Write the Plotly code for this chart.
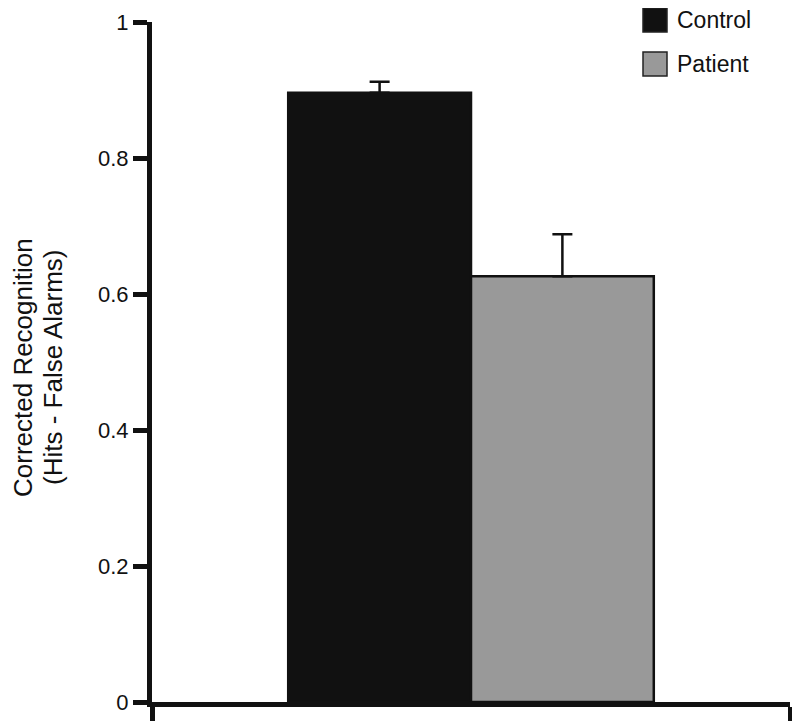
import plotly.graph_objects as go

groups = ["Control", "Patient"]
values = [0.896, 0.626]
errors = [0.016, 0.062]
fills = ["#111111", "#999999"]
category = [""]
ytick_vals = [0, 0.2, 0.4, 0.6, 0.8, 1]
ytick_text = ["0", "0.2", "0.4", "0.6", "0.8", "1"]
ytitle_lines = ["Corrected Recognition", "(Hits - False Alarms)"]

W, H = 800, 727
OFF = 8  # page body margin shifts the figure
L, R, T, B = 152 - OFF, 10 + OFF, 22 - OFF, 25 + OFF
pw, ph = W - L - R, H - T - B

def px_x(x):
    return (x - OFF - L) / pw

def px_y(y):
    return (H - B - (y - OFF)) / ph

fig = go.Figure()
for g, v, e, c in zip(groups, values, errors, fills):
    fig.add_trace(go.Bar(
        x=category, y=[v], name=g, showlegend=False,
        marker=dict(color=c, line=dict(color="#111111", width=2.5)),
        error_y=dict(type="data", symmetric=False, array=[e], arrayminus=[0],
                     color="#111111", thickness=2.5, width=10),
    ))

font = dict(family="Liberation Sans, Arial, sans-serif", size=22, color="#111111")

shapes = []
annotations = []
# legend drawn as squares + text labels
for i, (g, c) in enumerate(zip(groups, fills)):
    top = 8 + i * 44
    shapes.append(dict(type="rect", xref="paper", yref="paper",
                       x0=px_x(643), x1=px_x(667), y0=px_y(top + 24), y1=px_y(top),
                       fillcolor=c, line=dict(color="#222222", width=1.5)))
    annotations.append(dict(text=g, xref="paper", yref="paper",
                            x=px_x(675), y=px_y(top + 12), xanchor="left",
                            yanchor="middle", showarrow=False,
                            font=dict(size=23, color="#111111")))
# y-axis title, two lines
for j, line in enumerate(ytitle_lines):
    annotations.append(dict(text=line, xref="paper", yref="paper",
                            x=px_x(23 + j * 30), y=px_y(368), xanchor="center",
                            yanchor="middle", textangle=-90, showarrow=False,
                            borderpad=0,
                            font=dict(size=26, color="#111111")))

fig.update_layout(
    width=W, height=H,
    margin=dict(l=L, r=R, t=T, b=B, autoexpand=False),
    paper_bgcolor="white", plot_bgcolor="white",
    font=font, showlegend=False,
    barmode="group", bargap=0.427, bargroupgap=0,
    shapes=shapes, annotations=annotations,
    xaxis=dict(type="category", range=[-0.5, 0.5], showline=True, linewidth=5,
               linecolor="#111111", showgrid=False, zeroline=False,
               ticks="outside", ticklen=14, tickwidth=5, tickcolor="#111111",
               tickmode="array", tickvals=[-0.5, 0.5], ticktext=["", ""],
               showticklabels=False, automargin=False),
    yaxis=dict(range=[0, 1], showline=True, linewidth=5, linecolor="#111111",
               showgrid=False, zeroline=False, ticks="outside", ticklen=14,
               tickwidth=5, tickcolor="#111111", tickvals=ytick_vals,
               ticktext=ytick_text, tickfont=dict(size=22), automargin=False),
)
fig.write_html("out.html")
